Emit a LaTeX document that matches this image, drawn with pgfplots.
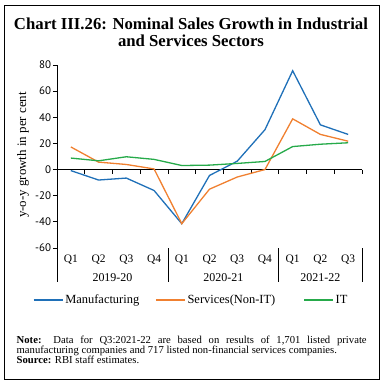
\documentclass[border=0pt]{standalone}
\usepackage{fontspec}
\setmainfont{Liberation Serif}
\newfontfamily\numfont{PT Sans}
\usepackage{pgfplots}
\pgfplotsset{compat=1.18}
\definecolor{manu}{RGB}{31,112,184}
\definecolor{serv}{RGB}{240,128,48}
\definecolor{itc}{RGB}{38,170,74}

\pgfplotstableread{
x manu serv it
0 -0.8 17.3 8.8
1 -8.0 5.7 6.7
2 -6.5 3.9 9.8
3 -16.0 0.5 7.8
4 -41.4 -41.4 3.1
5 -4.5 -15.0 3.4
6 6.4 -5.7 4.7
7 30.5 0.0 6.2
8 75.6 38.8 17.6
9 34.2 26.9 19.4
10 26.9 21.7 20.5
}\datatab

\begin{document}
\begin{tikzpicture}
\useasboundingbox (0,0) rectangle (385bp,-387bp);
\draw[line width=0.8bp] (4bp,-5bp) rectangle (379.5bp,-379.5bp);
\node[font=\fontsize{16.8}{17}\selectfont\bfseries, align=center] at (191bp,-32bp) {Chart III.26: Nominal Sales Growth in Industrial\\and Services Sectors};
\node[rotate=90, font=\fontsize{13}{14}\selectfont] at (23bp,-155bp) {y-o-y growth in per cent};
\begin{axis}[
 at={(57bp,-248bp)}, anchor=south west, scale only axis, width=305bp, height=183bp,
 xmin=-0.5, xmax=10.5, ymin=-60, ymax=80,
 axis lines*=left, clip=false,
 x axis line style={draw=none},
 y axis line style={line width=0.8bp},
 xtick={0,...,10},
 xticklabels={Q1,Q2,Q3,Q4,Q1,Q2,Q3,Q4,Q1,Q2,Q3},
 x tick style={draw=none},
 x tick label style={font=\fontsize{11.5}{12}\selectfont, yshift=1bp},
 ytick={-60,-40,...,80},
 y tick style={line width=0.8bp, black},
 tick align=outside, major tick length=4bp,
 y tick label style={font=\numfont\fontsize{11}{12}\selectfont, xshift=1.5bp},
 /pgf/number format/assume math mode=true,
 legend style={at={(0.44,-0.284)}, anchor=center, draw=none, fill=none,
   legend columns=3, font=\fontsize{12.5}{13}\selectfont,
   /tikz/every even column/.append style={column sep=14bp}},
 legend cell align=left,
 legend image code/.code={\draw[#1] (0bp,0bp) -- (29bp,0bp);},
]
\draw[line width=0.8bp] (axis cs:-0.5,0) -- (axis cs:10.5,0);
\pgfplotsinvokeforeach{0.5,1.5,2.5,3.5,4.5,5.5,6.5,7.5,8.5,9.5,10.5}{
  \draw[line width=0.8bp] (axis cs:#1,0) -- ++(0bp,-4bp);
}
\draw[line width=0.8bp] (axis cs:-0.5,-60) -- (axis cs:-0.5,-86);
\draw[line width=0.8bp] (axis cs:3.5,-60) -- (axis cs:3.5,-86);
\draw[line width=0.8bp] (axis cs:7.5,-60) -- (axis cs:7.5,-86);
\draw[line width=0.8bp] (axis cs:10.5,-60) -- (axis cs:10.5,-86);
\node[font=\fontsize{12}{13}\selectfont] at (axis cs:1.5,-82.5) {2019-20};
\node[font=\fontsize{12}{13}\selectfont] at (axis cs:5.5,-82.5) {2020-21};
\node[font=\fontsize{12}{13}\selectfont] at (axis cs:9,-82.5) {2021-22};
\addplot[manu, line width=1.3bp] table[x=x,y=manu] {\datatab};
\addplot[serv, line width=1.3bp] table[x=x,y=serv] {\datatab};
\addplot[itc, line width=1.3bp] table[x=x,y=it] {\datatab};
\legend{Manufacturing,Services(Non-IT)\rule{12bp}{0pt},IT}
\end{axis}
\node[anchor=north west, text width=350bp, align=justify, font=\fontsize{10.7}{10}\selectfont, inner sep=0pt] at (16.5bp,-336bp) {\textbf{Note:} Data for Q3:2021-22 are based on results of 1,701 listed private\linebreak manufacturing companies and 717 listed non-financial services companies.\\ \textbf{Source:} RBI staff estimates.};
\end{tikzpicture}
\end{document}
